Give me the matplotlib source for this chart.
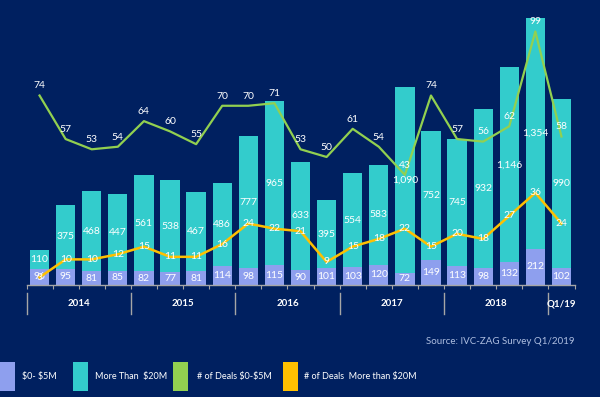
import matplotlib

matplotlib.use("Agg")
import matplotlib.pyplot as plt
import matplotlib.transforms as mtransforms
from matplotlib.patches import Rectangle
import numpy as np

plt.rcParams["font.family"] = ["Lato", "DejaVu Sans"]
plt.rcParams["text.parse_math"] = False

BG = "#002060"
C_SMALL = "#8E9FEE"
C_LARGE = "#33CCCC"
C_GREEN = "#92D050"
C_YELLOW = "#FFC000"
AXIS_GREY = "#A6A6A6"

# quarterly data, Q1/2014 .. Q1/2019
small_amount = [96, 95, 81, 85, 82, 77, 81, 114, 98, 115, 90, 101, 103, 120, 72, 149, 113, 98, 132, 212, 102]
large_amount = [110, 375, 468, 447, 561, 538, 467, 486, 777, 965, 633, 395, 554, 583, 1090, 752, 745, 932, 1146, 1354, 990]
deals_small = [74, 57, 53, 54, 64, 60, 55, 70, 70, 71, 53, 50, 61, 54, 43, 74, 57, 56, 62, 99, 58]
deals_large = [3, 10, 10, 12, 15, 11, 11, 16, 24, 22, 21, 9, 15, 18, 22, 15, 20, 18, 27, 36, 24]
year_labels = ["2014", "2015", "2016", "2017", "2018", "Q1/19"]
year_sizes = [4, 4, 4, 4, 4, 1]
legend_labels = ["$0- $5M", "More Than  $20M", "# of Deals $0-$5M", "# of Deals  More than $20M"]

fig = plt.figure(figsize=(6.0, 3.97), dpi=100)
fig.patch.set_facecolor(BG)
ax = fig.add_axes([26.5 / 600, 112 / 397, 548 / 600, 275 / 397])
ax.set_facecolor(BG)
ax2 = ax.twinx()

x = np.arange(len(small_amount))
ax.bar(x, small_amount, width=0.74, color=C_SMALL, zorder=2)
ax.bar(x, large_amount, width=0.74, bottom=small_amount, color=C_LARGE, zorder=2)
ax.set_xlim(-0.5, len(x) - 0.5)
ax.set_ylim(0, 1613)

for i, (s, l) in enumerate(zip(small_amount, large_amount)):
    ax.text(i, s / 2, f"{s:,}", ha="center", va="center", color="white", fontsize=7.5, zorder=5)
    ax.text(i, s + l / 2, f"{l:,}", ha="center", va="center", color="white", fontsize=7.5, zorder=5)

ax2.set_ylim(0, 107.4)
ax2.plot(x, deals_small, color=C_GREEN, linewidth=1.6, zorder=3)
ax2.plot(x, deals_large, color=C_YELLOW, linewidth=1.8, zorder=3)
for i, v in enumerate(deals_small):
    ax2.annotate(str(v), (i, v), xytext=(0, 7), textcoords="offset points",
                 ha="center", va="center", color="white", fontsize=7.5, zorder=6)
for i, v in enumerate(deals_large):
    ax2.text(i, v, str(v), ha="center", va="center", color="white", fontsize=7.5, zorder=6)

for a in (ax, ax2):
    for side in ("top", "right", "left"):
        a.spines[side].set_visible(False)
    a.set_yticks([])
ax.spines["bottom"].set_color(AXIS_GREY)
ax.spines["bottom"].set_linewidth(1.0)
ax2.spines["bottom"].set_visible(False)
ax.set_xticks(np.arange(-0.5, len(x), 1.0))
ax.set_xticklabels([])
ax.tick_params(axis="x", length=3, width=0.8, color=AXIS_GREY, direction="out")

# year group separators and labels below the axis
trans = mtransforms.blended_transform_factory(ax.transData, fig.transFigure)
bounds = [-0.5]
for n in year_sizes:
    bounds.append(bounds[-1] + n)
for b in bounds[:-1]:
    ax.plot([b, b], [1 - 293 / 397, 1 - 314 / 397], transform=trans, color=AXIS_GREY,
            linewidth=1.0, clip_on=False)
for lab, lo, hi in zip(year_labels, bounds[:-1], bounds[1:]):
    ax.text((lo + hi) / 2, 1 - 304 / 397, lab, transform=trans, ha="center", va="center",
            color="white", fontsize=7, fontweight="bold")

fig.text(575 / 600, 1 - 341 / 397, "Source: IVC-ZAG Survey Q1/2019", ha="right", va="center",
         color="#AEBEE0", fontsize=7)

# legend along the bottom
leg_colors = [C_SMALL, C_LARGE, C_GREEN, C_YELLOW]
leg_box_x = [0, 73, 173, 283]
leg_text_x = [22, 95, 197, 304]
for lab, col, bx, tx in zip(legend_labels, leg_colors, leg_box_x, leg_text_x):
    fig.patches.append(Rectangle((bx / 600, 1 - 391 / 397), 15 / 600, 29 / 397,
                                 transform=fig.transFigure, facecolor=col, edgecolor="none"))
    fig.text(tx / 600, 1 - 376 / 397, lab, ha="left", va="center", color="white", fontsize=6.5)

fig.savefig("out.png", dpi=100, facecolor=BG)
